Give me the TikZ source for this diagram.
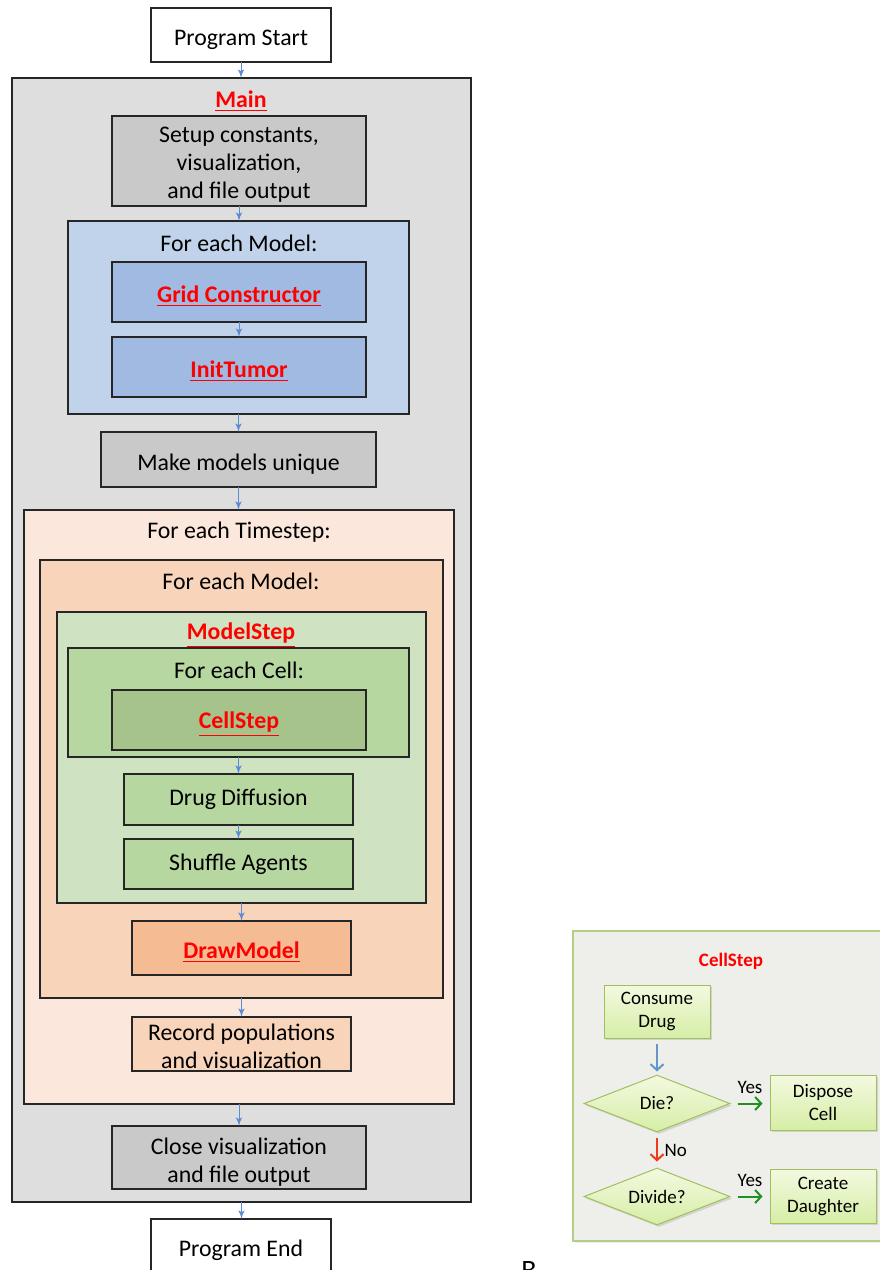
\documentclass[tikz,border=0pt]{standalone}
\usepackage{fontspec}
\setmainfont{Carlito}
\usetikzlibrary{arrows,arrows.meta,positioning,shapes.geometric,shadows}
\definecolor{mgray}{RGB}{222, 222, 222}
\definecolor{dgray}{RGB}{201, 201, 201}
\definecolor{lblue}{RGB}{193, 210, 235}
\definecolor{dblue}{RGB}{160, 186, 226}
\definecolor{lpeach}{RGB}{251, 231, 219}
\definecolor{mpeach}{RGB}{248, 212, 186}
\definecolor{dpeach}{RGB}{245, 188, 148}
\definecolor{lgreen}{RGB}{207, 227, 194}
\definecolor{mgreen}{RGB}{182, 215, 160}
\definecolor{dgreen}{RGB}{165, 195, 139}
\definecolor{fred}{RGB}{255, 0, 0}
\definecolor{arrblue}{RGB}{91, 139, 208}
\definecolor{pback}{RGB}{238, 239, 234}
\definecolor{pline}{RGB}{179, 207, 134}
\definecolor{ftop}{RGB}{243, 249, 224}
\definecolor{fbot}{RGB}{214, 238, 166}
\definecolor{fline}{RGB}{160, 192, 96}
\definecolor{fblue}{RGB}{100, 150, 205}
\definecolor{yesgreen}{RGB}{30, 145, 30}
\definecolor{nored}{RGB}{235, 60, 30}
\def\px{0.5pt}
\tikzstyle{frame} = [rectangle, draw=black!85, line width=0.7pt, inner sep=0pt, outer sep=0pt]
\tikzstyle{title} = [font=\fontsize{11.9}{14}\selectfont, align=center]
\tikzstyle{func} = [font=\fontsize{11.9}{14}\selectfont\bfseries, text=fred]
\tikzstyle{line} = [draw, color=arrblue, line width=0.5pt, -latex']
\tikzstyle{flow} = [rectangle, draw=fline, line width=0.5pt, top color=ftop, bottom color=fbot,
  align=center, inner sep=0pt, font=\fontsize{9.5}{11.5}\selectfont,
  drop shadow={opacity=0.25, shadow xshift=1pt, shadow yshift=-1pt}]
\tikzstyle{choice} = [flow, diamond, aspect=2.56]
\tikzstyle{fline} = [draw, line width=1pt, -{Straight Barb[length=3pt, width=6.5pt]}]
\tikzstyle{small} = [font=\fontsize{9.5}{11.5}\selectfont]
\newcommand{\fname}[1]{\underline{#1}}

\begin{document}
\begin{tikzpicture}[x=0.5pt, y=-0.5pt]
  \useasboundingbox (0,0) rectangle (879,1270);

  \node [frame, fill=white, minimum width=180*\px, minimum height=54*\px] (start) at (241,35) {};
  \node [title, yshift=-2.5pt] at (start) {Program Start};
  \node [frame, fill=mgray, minimum width=459*\px, minimum height=1124*\px] (main) at (241.5,640) {};
  \node [func] (mainlbl) at (241,101) {\fname{Main}};
  \node [frame, fill=dgray, minimum width=254*\px, minimum height=90*\px] (setup) at (239,161) {};
  \node [title, yshift=-2pt] at (setup) {Setup constants,\\visualization,\\and file output};

  % model construction loop
  \node [frame, fill=lblue, minimum width=341*\px, minimum height=193*\px] (loopA) at (238.5,317.5) {};
  \node [title] (loopAlbl) at (239,243) {For each Model:};
  \node [frame, fill=dblue, minimum width=254*\px, minimum height=60*\px] (grid) at (239,292) {};
  \node [func, yshift=-2pt] at (grid) {\fname{Grid Constructor}};
  \node [frame, fill=dblue, minimum width=254*\px, minimum height=60*\px] (init) at (239,367) {};
  \node [func, yshift=-2pt] at (init) {\fname{InitTumor}};

  \node [frame, fill=dgray, minimum width=275*\px, minimum height=55*\px] (unique) at (238.5,459.5) {};
  \node [title, yshift=-2.5pt] at (unique) {Make models unique};

  % time loop
  \node [frame, fill=lpeach, minimum width=430*\px, minimum height=594*\px] (tstep) at (239,807) {};
  \node [title] (tsteplbl) at (239,532) {For each Timestep:};
  \node [frame, fill=mpeach, minimum width=403*\px, minimum height=438*\px] (loopB) at (241.5,779) {};
  \node [title] (loopBlbl) at (241,581) {For each Model:};
  \node [frame, fill=lgreen, minimum width=369*\px, minimum height=291*\px] (mstep) at (241.5,757.5) {};
  \node [func] (msteplbl) at (241,635) {\fname{ModelStep}};
  \node [frame, fill=mgreen, minimum width=341*\px, minimum height=109*\px] (loopC) at (238.5,702.5) {};
  \node [title] (loopClbl) at (239,670) {For each Cell:};
  \node [frame, fill=dgreen, minimum width=254*\px, minimum height=60*\px] (cstep) at (239,720) {};
  \node [func, yshift=-2pt] at (cstep) {\fname{CellStep}};
  \node [frame, fill=mgreen, minimum width=229*\px, minimum height=51*\px] (diff) at (238.5,799.5) {};
  \node [title] at (diff) {Drug Diffusion};
  \node [frame, fill=mgreen, minimum width=229*\px, minimum height=50*\px] (shuf) at (238.5,864) {};
  \node [title] at (shuf) {Shuffle Agents};
  \node [frame, fill=dpeach, minimum width=219*\px, minimum height=54*\px] (draw) at (241.5,948) {};
  \node [func, yshift=-2pt] at (draw) {\fname{DrawModel}};
  \node [frame, fill=mpeach, minimum width=219*\px, minimum height=54*\px] (record) at (241.5,1044) {};
  \node [title, yshift=-1pt] at (record) {Record populations\\and visualization};

  \node [frame, fill=dgray, minimum width=254*\px, minimum height=63*\px] (close) at (239,1157.5) {};
  \node [title, yshift=-2.5pt] at (close) {Close visualization\\and file output};
  \node [frame, fill=white, minimum width=180*\px, minimum height=54*\px] (end) at (241,1246) {};
  \node [title, yshift=-2pt] at (end) {Program End};

  \path [line] (start.south) -- (start.south |- main.north);
  \path [line] (setup.south) -- (setup.south |- loopA.north);
  \path [line] (grid.south) -- (grid.south |- init.north);
  \path [line] (loopA.south) -- (loopA.south |- unique.north);
  \path [line] (unique.south) -- (unique.south |- tstep.north);
  \path [line] (loopC.south) -- (loopC.south |- diff.north);
  \path [line] (diff.south) -- (diff.south |- shuf.north);
  \path [line] (mstep.south) -- (mstep.south |- draw.north);
  \path [line] (loopB.south) -- (loopB.south |- record.north);
  \path [line] (tstep.south) -- (tstep.south |- close.north);
  \path [line] (main.south) -- (main.south |- end.north);

  % CellStep panel
  \node [rectangle, draw=pline, line width=0.6pt, fill=pback, minimum width=317*\px, minimum height=310*\px,
    drop shadow={opacity=0.15, shadow xshift=1pt, shadow yshift=-1pt}] (panel) at (731.5,1086) {};
  \node [font=\fontsize{9.5}{11.5}\selectfont\bfseries, text=fred] (panellbl) at (731,961) {CellStep};
  \node [flow, minimum width=106*\px, minimum height=53*\px] (consume) at (657,1011.5) {Consume\\Drug};
  \node [choice, minimum width=146*\px, minimum height=57*\px] (die) at (657,1103.5) {Die?};
  \node [flow, minimum width=106*\px, minimum height=55*\px] (dispose) at (823,1102.5) {Dispose\\Cell};
  \node [choice, minimum width=146*\px, minimum height=57*\px] (divide) at (657,1196.5) {Divide?};
  \node [flow, minimum width=106*\px, minimum height=54*\px] (daughter) at (823,1196) {Create\\Daughter};

  \path [fline, color=fblue, shorten <=2.5pt, shorten >=1.5pt] (consume.south) -- (die.north);
  \path [fline, color=yesgreen, shorten <=3.5pt, shorten >=3.5pt] (die.east) -- (die.east -| dispose.west)
    node [midway, above=1pt, small, text=black] {Yes};
  \path [fline, color=nored, shorten <=2.5pt, shorten >=3pt] (die.south) -- (divide.north)
    node [midway, right=0pt, small, text=black] {No};
  \path [fline, color=yesgreen, shorten <=3.5pt, shorten >=3.5pt] (divide.east) -- (divide.east -| daughter.west)
    node [midway, above=1pt, small, text=black] {Yes};

  \node [anchor=base, font=\rmfamily\fontsize{14}{14}\selectfont] (sub) at (529,1279) {B};
\end{tikzpicture}
\end{document}
